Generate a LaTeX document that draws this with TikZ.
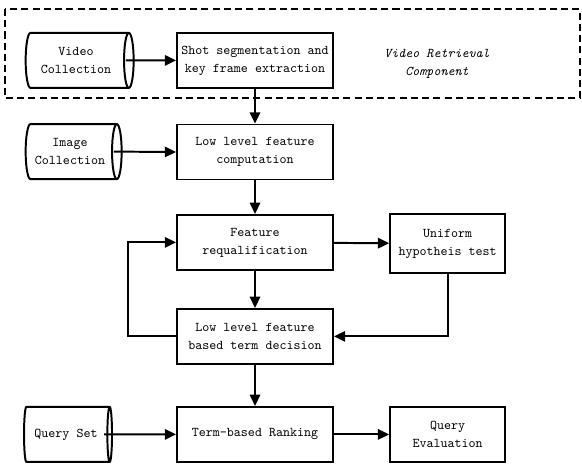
\documentclass[tikz,border=0pt]{standalone}
\usetikzlibrary{arrows.meta,shapes.geometric}

\begin{document}
\begin{tikzpicture}[every node/.style={font=\fontsize{9.5}{12.8}\selectfont\ttfamily, align=center}, >={Triangle[length=2.8mm, width=2.6mm]}, proc/.style={draw, line width=1.4pt, minimum width=3.9cm, minimum height=1.375cm, inner sep=1pt}, store/.style={draw, line width=1.4pt, cylinder, aspect=0.33, minimum width=1.375cm, inner sep=1pt}, flow/.style={->, line width=1.4pt}]
	\useasboundingbox (0,0) rectangle (14.55,-11.6);
	\draw[line width=1.4pt, dash pattern=on 5pt off 3pt] (0.125,-0.225) rectangle (14.5,-2.45);
	\node[store, minimum height=2.7cm] (vid) at (1.9,-1.51) {Video\\Collection};
	\node[proc] (shot) at (6.375,-1.51) {Shot segmentation and\\key frame extraction};
	\node[font=\fontsize{9.5}{12.8}\selectfont\ttfamily\itshape] (vrc) at (10.925,-1.6) {Video Retrieval\\Component};
	\node[store, minimum height=2.4cm] (img) at (1.75,-3.79) {Image\\Collection};
	\node[proc] (low) at (6.375,-3.8) {Low level feature\\computation};
	\node[proc] (req) at (6.375,-6.06) {Feature\\requalification};
	\node[proc, minimum width=2.875cm, minimum height=1.475cm] (uni) at (11.19,-6.09) {Uniform\\hypotheis test};
	\node[proc] (dec) at (6.375,-8.41) {Low level feature\\based term decision};
	\node[proc] (rank) at (6.375,-10.86) {Term-based Ranking};
	\node[store, minimum height=2.2cm] (qset) at (1.65,-10.86) {Query Set};
	\node[proc, minimum width=2.875cm] (qeval) at (11.19,-10.86) {Query\\Evaluation};
	\draw[flow] ([xshift=-0.22cm]vid.east) -- (shot.west);
	\draw[flow] (shot) -- (low);
	\draw[flow] ([xshift=-0.22cm]img.east) -- (low.west);
	\draw[flow] (low) -- (req);
	\draw[flow] (req) -- (uni);
	\draw[flow] (req) -- (dec);
	\draw[flow] (uni.south) |- (dec.east);
	\draw[flow] (dec.west) -- ++(-1.2,0) |- (req.west);
	\draw[flow] (dec) -- (rank);
	\draw[flow] ([xshift=-0.22cm]qset.east) -- (rank.west);
	\draw[flow] (rank) -- (qeval);
\end{tikzpicture}
\end{document}
